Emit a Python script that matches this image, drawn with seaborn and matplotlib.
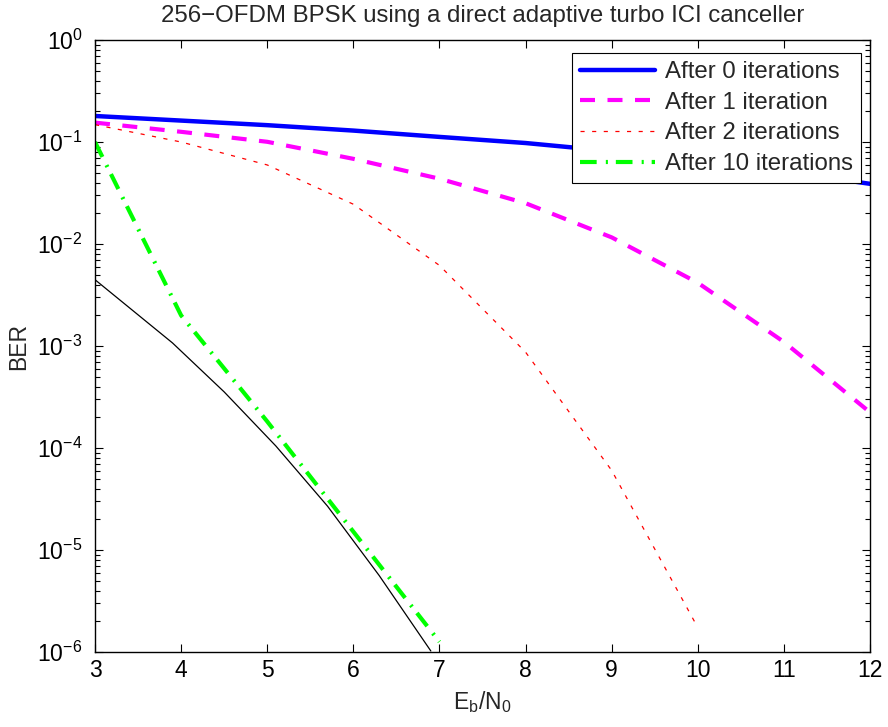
import numpy as np
import pandas as pd
import matplotlib
matplotlib.use("Agg")
import matplotlib.pyplot as plt
import seaborn as sns
from matplotlib.ticker import FixedLocator, NullFormatter, LogFormatterMathtext

# ---- data (log10 BER) ----
ebn0 = [3, 4, 5, 6, 7, 8, 9, 10, 11, 12]
ber_it0_log = [-0.745, -0.79, -0.835, -0.888, -0.95, -1.01, -1.09, -1.18, -1.29, -1.41]
ber_it1_log = [-0.81, -0.90, -0.998, -1.165, -1.36, -1.60, -1.935, -2.38, -2.96, -3.65]
ebn0_it2 = [3, 4, 5, 6, 7, 8, 9, 10]
ber_it2_log = [-0.83, -1.00, -1.225, -1.61, -2.21, -3.06, -4.22, -5.76]
ebn0_it10 = [3, 4, 5, 6, 7]
ber_it10_log = [-1.0, -2.70, -3.74, -4.82, -5.90]
ebn0_ref = [3, 3.9, 4.5, 5.1, 5.7, 6.3, 6.9]
ber_ref_log = [-2.35, -2.97, -3.45, -3.98, -4.57, -5.25, -5.99]

labels = ["After 0 iterations", "After 1 iteration", "After 2 iterations", "After 10 iterations"]
xticks = [3, 4, 5, 6, 7, 8, 9, 10, 11, 12]
ytick_exponents = [-6, -5, -4, -3, -2, -1, 0]

sns.set_style("ticks")
plt.rcParams["font.family"] = ["Liberation Sans", "DejaVu Sans"]
plt.rcParams["mathtext.fontset"] = "custom"
plt.rcParams["mathtext.rm"] = "Liberation Sans"
plt.rcParams["mathtext.it"] = "Liberation Sans:italic"
plt.rcParams["mathtext.default"] = "regular"

FS = 16.5
FS_BIG = 17.3

fig = plt.figure(figsize=(8.88, 7.27), dpi=100)
ax = fig.add_axes([95 / 888, 1 - 652 / 727, 775 / 888, 612 / 727])

def df(x, ylog):
    return pd.DataFrame({"x": x, "y": np.power(10.0, ylog)})

sns.lineplot(data=df(ebn0, ber_it0_log), x="x", y="y", ax=ax, color="#0000ff",
             lw=3.2, label=labels[0])
sns.lineplot(data=df(ebn0, ber_it1_log), x="x", y="y", ax=ax, color="#ff00ff",
             lw=3.0, label=labels[1], linestyle=(0, (3.6, 3.0)))
sns.lineplot(data=df(ebn0_it2, ber_it2_log), x="x", y="y", ax=ax, color="#ff0000",
             lw=0.9, label=labels[2], linestyle=(0, (3.3, 6.0)))
sns.lineplot(data=df(ebn0_it10, ber_it10_log), x="x", y="y", ax=ax, color="#00ff00",
             lw=3.0, label=labels[3], linestyle=(0, (4.0, 2.2, 0.5, 1.9)))
sns.lineplot(data=df(ebn0_ref, ber_ref_log), x="x", y="y", ax=ax, color="black",
             lw=0.9)

ax.set_yscale("log")
ax.set_xlim(3, 12)
ax.set_ylim(1e-6, 1)
ax.set_xticks(xticks)
ax.set_xticklabels([str(t) for t in xticks])
major_y = [10.0 ** e for e in ytick_exponents]
minor_y = [m * 10.0 ** e for e in ytick_exponents[:-1] for m in range(2, 10)]
ax.yaxis.set_major_locator(FixedLocator(major_y))
ax.yaxis.set_major_formatter(LogFormatterMathtext())
ax.yaxis.set_minor_locator(FixedLocator(minor_y))
ax.yaxis.set_minor_formatter(NullFormatter())
ax.xaxis.get_offset_text().set_visible(False)
ax.yaxis.get_offset_text().set_visible(False)

for s in ax.spines.values():
    s.set_visible(True)
    s.set_linewidth(1.0)
    s.set_color("black")

ax.tick_params(which="both", direction="in", top=True, right=True, labelsize=FS,
               colors="black", width=0.8)
ax.tick_params(which="major", length=5.5)
ax.tick_params(axis="x", which="major", pad=5)
ax.tick_params(axis="y", which="major", pad=9)
ax.tick_params(which="minor", length=3.5)

ax.set_xlabel("E$_b$/N$_0$", fontsize=FS, labelpad=5)
ax.set_ylabel("BER", fontsize=FS, labelpad=5)
ax.set_title("256\u2212OFDM BPSK using a direct adaptive turbo ICI canceller",
             fontsize=FS_BIG, pad=13)

leg = ax.legend(loc="upper right", fontsize=FS_BIG, frameon=True, fancybox=False,
                framealpha=1, edgecolor="black", borderpad=0.35, labelspacing=0.36,
                handlelength=3.1, handletextpad=0.4, borderaxespad=0.0,
                bbox_to_anchor=(861 / 888, 1 - 52.7 / 727), bbox_transform=fig.transFigure)
leg.get_frame().set_linewidth(0.8)

fig.savefig("out.png", dpi=100)
